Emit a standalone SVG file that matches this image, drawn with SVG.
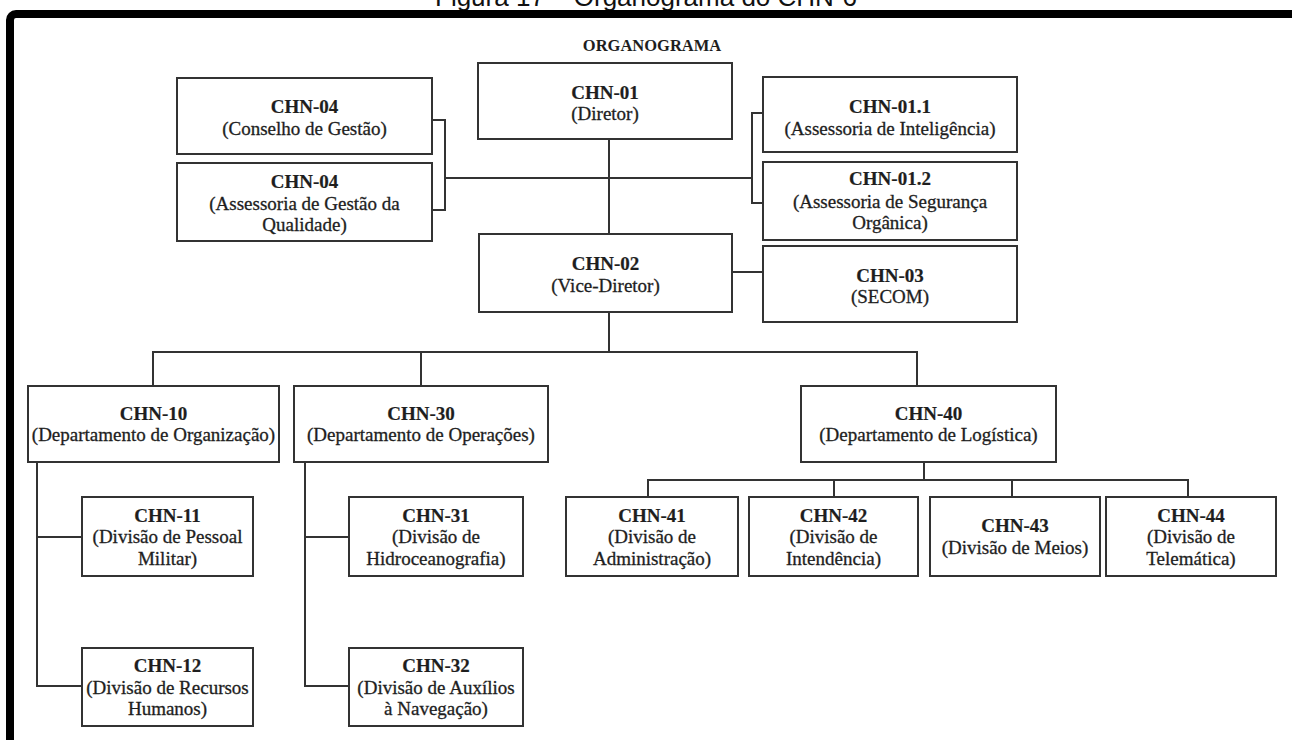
<svg xmlns="http://www.w3.org/2000/svg" width="1292" height="740" viewBox="0 0 1292 740">
<style>
.box{fill:#ffffff;stroke:#333333;stroke-width:2}
.ln{fill:none;stroke:#333333;stroke-width:2}
.t{font-family:"Liberation Serif","Times New Roman",serif;font-size:19px;fill:#1e1e1e;stroke:#1e1e1e;stroke-width:0.3;text-anchor:middle}
.b{font-weight:bold;stroke-width:0.2}
</style>
<rect x="0" y="0" width="1292" height="740" fill="#ffffff"/>
<text x="646" y="6" font-family="Liberation Sans, Arial, sans-serif" font-size="26" fill="#111" text-anchor="middle">Figura 17 – Organograma do CHN-6</text>
<path d="M10 745 V20 A6 6 0 0 1 16 14 H1300" fill="none" stroke="#000" stroke-width="8"/>
<text x="652" y="51" font-family="Liberation Serif, Times New Roman, serif" font-size="16.5" font-weight="bold" fill="#1e1e1e" text-anchor="middle">ORGANOGRAMA</text>

<g id="connectors">
<path class="ln" d="M432 120 H445 V210 H432"/>
<path class="ln" d="M445 178 H752"/>
<path class="ln" d="M763 113 H752 V203 H763"/>
<path class="ln" d="M609 139 V234"/>
<path class="ln" d="M732 272 H763"/>
<path class="ln" d="M609 312 V352"/>
<path class="ln" d="M153 386 V352 H917 V386"/>
<path class="ln" d="M421 352 V386"/>
<path class="ln" d="M37 462 V686 H82"/>
<path class="ln" d="M37 537 H82"/>
<path class="ln" d="M305 462 V686 H349"/>
<path class="ln" d="M305 537 H349"/>
<path class="ln" d="M924 462 V480"/>
<path class="ln" d="M648 497 V480 H1188 V497"/>
<path class="ln" d="M834 480 V497"/>
<path class="ln" d="M1012 480 V497"/>
</g>

<g id="chn04a"><rect class="box" x="177" y="78" width="255" height="76"/>
<text class="t b" x="304.5" y="113">CHN-04</text><text class="t" x="304.5" y="135">(Conselho de Gestão)</text></g>
<g id="chn04b"><rect class="box" x="177" y="163" width="255" height="78"/>
<text class="t b" x="304.5" y="188">CHN-04</text><text class="t" x="304.5" y="210">(Assessoria de Gestão da</text><text class="t" x="304.5" y="231">Qualidade)</text></g>
<g id="chn01"><rect class="box" x="478" y="63" width="254" height="76"/>
<text class="t b" x="605" y="99">CHN-01</text><text class="t" x="605" y="120">(Diretor)</text></g>
<g id="chn011"><rect class="box" x="763" y="77" width="254" height="75"/>
<text class="t b" x="890" y="113">CHN-01.1</text><text class="t" x="890" y="135">(Assessoria de Inteligência)</text></g>
<g id="chn012"><rect class="box" x="763" y="162" width="254" height="78"/>
<text class="t b" x="890" y="185">CHN-01.2</text><text class="t" x="890" y="208">(Assessoria de Segurança</text><text class="t" x="890" y="229">Orgânica)</text></g>
<g id="chn02"><rect class="box" x="479" y="234" width="253" height="78"/>
<text class="t b" x="605.5" y="270">CHN-02</text><text class="t" x="605.5" y="292">(Vice-Diretor)</text></g>
<g id="chn03"><rect class="box" x="763" y="246" width="254" height="76"/>
<text class="t b" x="890" y="282">CHN-03</text><text class="t" x="890" y="303">(SECOM)</text></g>

<g id="chn10"><rect class="box" x="28" y="386" width="251" height="76"/>
<text class="t b" x="153.5" y="420">CHN-10</text><text class="t" x="153.5" y="441">(Departamento de Organização)</text></g>
<g id="chn30"><rect class="box" x="294" y="386" width="254" height="76"/>
<text class="t b" x="421" y="420">CHN-30</text><text class="t" x="421" y="441">(Departamento de Operações)</text></g>
<g id="chn40"><rect class="box" x="801" y="386" width="255" height="76"/>
<text class="t b" x="928.5" y="420">CHN-40</text><text class="t" x="928.5" y="441">(Departamento de Logística)</text></g>

<g id="chn11"><rect class="box" x="82" y="497" width="171" height="79"/>
<text class="t b" x="167.5" y="522">CHN-11</text><text class="t" x="167.5" y="543">(Divisão de Pessoal</text><text class="t" x="167.5" y="565">Militar)</text></g>
<g id="chn12"><rect class="box" x="82" y="648" width="171" height="78"/>
<text class="t b" x="167.5" y="672">CHN-12</text><text class="t" x="167.5" y="694">(Divisão de Recursos</text><text class="t" x="167.5" y="715">Humanos)</text></g>
<g id="chn31"><rect class="box" x="349" y="497" width="174" height="79"/>
<text class="t b" x="436" y="522">CHN-31</text><text class="t" x="436" y="543">(Divisão de</text><text class="t" x="436" y="565">Hidroceanografia)</text></g>
<g id="chn32"><rect class="box" x="349" y="648" width="174" height="78"/>
<text class="t b" x="436" y="672">CHN-32</text><text class="t" x="436" y="694">(Divisão de Auxílios</text><text class="t" x="436" y="715">à Navegação)</text></g>
<g id="chn41"><rect class="box" x="566" y="497" width="172" height="79"/>
<text class="t b" x="652" y="522">CHN-41</text><text class="t" x="652" y="543">(Divisão de</text><text class="t" x="652" y="565">Administração)</text></g>
<g id="chn42"><rect class="box" x="749" y="497" width="169" height="79"/>
<text class="t b" x="833.5" y="522">CHN-42</text><text class="t" x="833.5" y="543">(Divisão de</text><text class="t" x="833.5" y="565">Intendência)</text></g>
<g id="chn43"><rect class="box" x="930" y="497" width="170" height="79"/>
<text class="t b" x="1015" y="532">CHN-43</text><text class="t" x="1015" y="554">(Divisão de Meios)</text></g>
<g id="chn44"><rect class="box" x="1106" y="497" width="170" height="79"/>
<text class="t b" x="1191" y="522">CHN-44</text><text class="t" x="1191" y="543">(Divisão de</text><text class="t" x="1191" y="565">Telemática)</text></g>
</svg>
